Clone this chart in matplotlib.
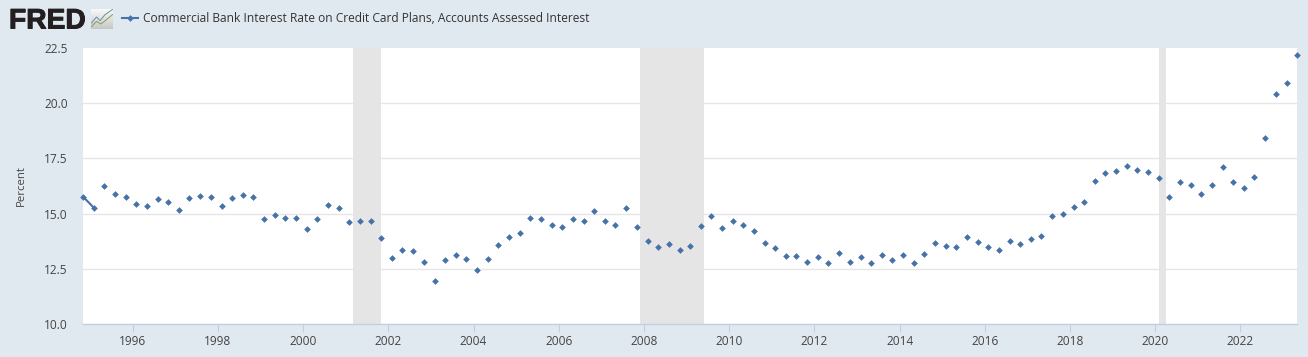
import numpy as np
import pandas as pd
import matplotlib
matplotlib.use('Agg')
import matplotlib.pyplot as plt
import matplotlib.dates as mdates
import matplotlib.patheffects as pe

# quarterly, mid quarter months as FRED stamps them
dates = pd.date_range('1994-11-01', '2023-05-01', freq='3MS')
rates = [15.77, 15.27, 16.27, 15.90, 15.74, 15.42, 15.33, 15.66, 15.53, 15.15,
         15.72, 15.78, 15.74, 15.34, 15.69, 15.84, 15.74, 14.74, 14.94, 14.80,
         14.79, 14.30, 14.76, 15.37, 15.27, 14.63, 14.65, 14.66, 13.89, 13.00,
         13.37, 13.29, 12.79, 11.96, 12.88, 13.12, 12.93, 12.43, 12.93, 13.59,
         13.93, 14.14, 14.82, 14.76, 14.50, 14.38, 14.77, 14.66, 15.10, 14.65,
         14.47, 15.24, 14.38, 13.77, 13.50, 13.64, 13.37, 13.55, 14.42, 14.91,
         14.36, 14.66, 14.48, 14.23, 13.67, 13.44, 13.06, 13.08, 12.79, 13.03,
         12.76, 13.22, 12.81, 13.02, 12.76, 13.11, 12.88, 13.14, 12.75, 13.19,
         13.68, 13.53, 13.49, 13.93, 13.70, 13.50, 13.35, 13.76, 13.61, 13.86,
         14.00, 14.89, 15.00, 15.31, 15.54, 16.46, 16.85, 16.91, 17.14, 16.97,
         16.88, 16.61, 15.77, 16.43, 16.28, 15.90, 16.30, 17.13, 16.45, 16.17,
         16.64, 18.44, 20.40, 20.91, 22.17]
recessions = [('2001-03-01', '2001-11-01'),
              ('2007-12-01', '2009-06-01'),
              ('2020-02-01', '2020-04-01')]
yticks = [10.0, 12.5, 15.0, 17.5, 20.0, 22.5]
xtick_years = list(range(1996, 2024, 2))
title = 'Commercial Bank Interest Rate on Credit Card Plans, Accounts Assessed Interest'

W, H = 1308, 357
BG = '#e1e9f0'
BLUE = '#4572a7'
TXT = '#444444'

plt.rcParams['font.family'] = ['Open Sans', 'DejaVu Sans']

fig = plt.figure(figsize=(W/100, H/100), dpi=100, facecolor=BG)
ax = fig.add_axes([83/W, 1-324/H, (1297-83)/W, (324-48)/H], facecolor='white')

for start, end in recessions:
    ax.axvspan(pd.Timestamp(start), pd.Timestamp(end), color='#e5e5e5', lw=0, zorder=2)

ax.plot(dates[:2], rates[:2], color=BLUE, lw=1.5, zorder=3, clip_on=False)
ax.plot(dates, rates, ls='none', marker='D', ms=3.4, color=BLUE, mew=0, zorder=4, clip_on=False)

ax.set_xlim(dates[0], dates[-1])
ax.set_ylim(10, 22.5)
ax.set_yticks(yticks)
ax.set_yticklabels(['%.1f' % v for v in yticks])
ax.set_xticks([pd.Timestamp(f'{y}-01-01') for y in xtick_years])
ax.xaxis.set_major_formatter(mdates.DateFormatter('%Y'))
ax.grid(axis='y', color='#e6e6e6', lw=1, zorder=1)
ax.set_axisbelow(True)
for s in ['top', 'left', 'right']:
    ax.spines[s].set_visible(False)
ax.spines['bottom'].set_color('#c0d0e0')
ax.spines['bottom'].set_linewidth(1)
ax.tick_params(axis='x', color='#c0d0e0', length=5.5, width=0.8, labelsize=8.6,
               labelcolor=TXT, pad=2.5)
ax.tick_params(axis='y', length=0, labelsize=8.6, labelcolor=TXT, pad=11)
ax.yaxis.get_gridlines()[0].set_visible(False)
ax.yaxis.get_gridlines()[-1].set_visible(False)

fig.text(21/W, 1-186/H, 'Percent', rotation=90, ha='center', va='center',
         fontsize=8.2, color=TXT)

# header: logo, small icon, legend key and series name
logo = fig.text(9/W, 1-28.5/H, 'FRED', fontsize=20.3, fontweight='bold', color='#231f20',
                family=['Liberation Sans', 'DejaVu Sans'], ha='left', va='baseline')
logo.set_path_effects([pe.withStroke(linewidth=0.7, foreground='#231f20')])
icon = fig.add_axes([91/W, 1-29/H, 22/W, 20/H], facecolor='#dfe2e2')
icon.set_xlim(0, 1)
icon.set_ylim(0, 1)
icon.axis('off')
icon.imshow(np.linspace(0.97, 0.78, 20).reshape(-1, 1), cmap='gray', vmin=0, vmax=1,
            extent=(0, 1, 0, 1), aspect='auto')
icon.plot([0.02, 0.25, 0.42, 0.62, 0.98], [0.3, 0.6, 0.42, 0.7, 0.98], color='#6b8cae', lw=0.7)
icon.plot([0.02, 0.25, 0.45, 0.65, 0.98], [0.12, 0.38, 0.25, 0.42, 0.72], color='#7fa24f', lw=0.7)

fig.add_artist(plt.Line2D([122/W, 138/W], [1-18/H, 1-18/H], color=BLUE, lw=1.5))
fig.add_artist(plt.Line2D([130/W], [1-18/H], marker='D', ms=3.4, color=BLUE, mew=0))
fig.text(143/W, 1-18.5/H, title, fontsize=8.62, color='#333333', ha='left', va='center')

fig.savefig('out.png', dpi=100, facecolor=BG)
